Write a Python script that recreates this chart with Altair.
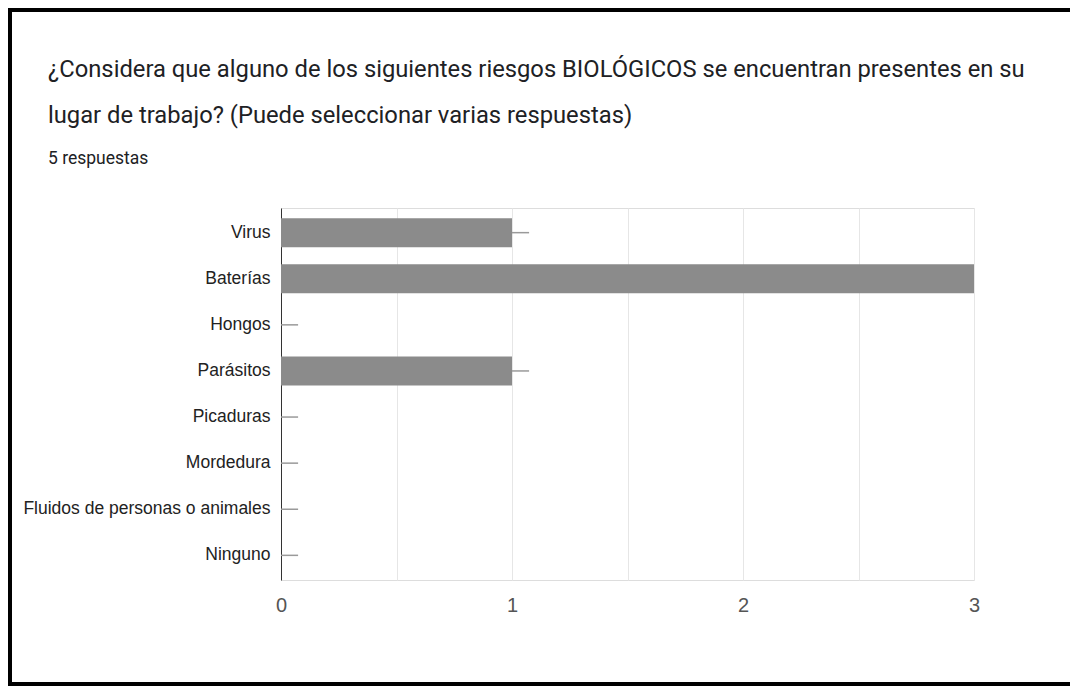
import altair as alt
import pandas as pd

categories = ["Virus", "Baterías", "Hongos", "Parásitos", "Picaduras",
              "Mordedura", "Fluidos de personas o animales", "Ninguno"]
counts = [1, 3, 0, 1, 0, 0, 0, 0]
x_ticks = [0, 0.5, 1, 1.5, 2, 2.5, 3]
title_lines = [
    "¿Considera que alguno de los siguientes riesgos BIOLÓGICOS se encuentran presentes en su",
    "lugar de trabajo? (Puede seleccionar varias respuestas)",
]
subtitle = "5 respuestas"

df = pd.DataFrame({"cat": categories, "n": counts})

W, H = 693, 372
PL, PT, PR, PB = 273, 200, 96, 106

y_enc = alt.Y("cat:N", sort=categories,
              scale=alt.Scale(paddingInner=0.37, paddingOuter=0.22),
              axis=alt.Axis(title=None, domain=True, domainColor="#333333", domainWidth=1,
                            ticks=False, grid=False, labelFont="Liberation Sans",
                            labelFontSize=17.5, labelColor="#222222", labelPadding=11,
                            labelLimit=500))
x_enc = alt.X("n:Q", scale=alt.Scale(domain=[0, 3], nice=False),
              axis=alt.Axis(title=None, values=x_ticks, grid=True, gridColor="#e6e6e6",
                            domain=False, ticks=False, labelFlush=False,
                            labelExpr="datum.value % 1 == 0 ? '' + datum.value : ''",
                            labelFont="Liberation Sans", labelFontSize=20,
                            labelColor="#555555", labelPadding=15))

bars = alt.Chart(df).mark_bar(color="#8b8b8b").encode(x=x_enc, y=y_enc)

stubs = alt.Chart(df).transform_calculate(n2="datum.n + 0.074").mark_rule(
    color="#9a9a9a", strokeWidth=1.5, clip=True
).encode(x="n:Q", x2="n2:Q", y=alt.Y("cat:N", sort=categories))

one = pd.DataFrame({"a": [0]})
border_left = alt.Chart(one).mark_rect(color="black").encode(
    x=alt.value(-PL), x2=alt.value(-PL + 4), y=alt.value(-PT), y2=alt.value(H + PB))
border_top = alt.Chart(one).mark_rect(color="black").encode(
    x=alt.value(-PL), x2=alt.value(W + PR), y=alt.value(-PT), y2=alt.value(-PT + 4))
border_bottom = alt.Chart(one).mark_rect(color="black").encode(
    x=alt.value(-PL), x2=alt.value(W + PR), y=alt.value(H + PB - 4), y2=alt.value(H + PB))

tdf = pd.DataFrame({"t": [title_lines[0]]})
tdf2 = pd.DataFrame({"t": [title_lines[1]]})
sdf = pd.DataFrame({"t": [subtitle]})
title1 = alt.Chart(tdf).mark_text(font="Roboto", fontSize=23.75, color="#202124",
                                   align="left", baseline="alphabetic").encode(
    text="t:N", x=alt.value(-233), y=alt.value(-131))
title2 = alt.Chart(tdf2).mark_text(font="Roboto", fontSize=23.75, color="#202124",
                                    align="left", baseline="alphabetic").encode(
    text="t:N", x=alt.value(-233), y=alt.value(-85))
sub = alt.Chart(sdf).mark_text(font="Roboto", fontSize=17.5, color="#202124",
                                align="left", baseline="alphabetic").encode(
    text="t:N", x=alt.value(-233), y=alt.value(-44))

chart = alt.layer(bars, stubs, border_left, border_top, border_bottom,
                  title1, title2, sub).properties(
    width=W, height=H,
    padding={"left": PL, "top": PT, "right": PR, "bottom": PB},
    autosize=alt.AutoSizeParams(type="none"),
).configure_view(stroke="#e6e6e6").configure(background="white")

chart.save("out.html", embed_options={"renderer": "svg", "actions": False})
